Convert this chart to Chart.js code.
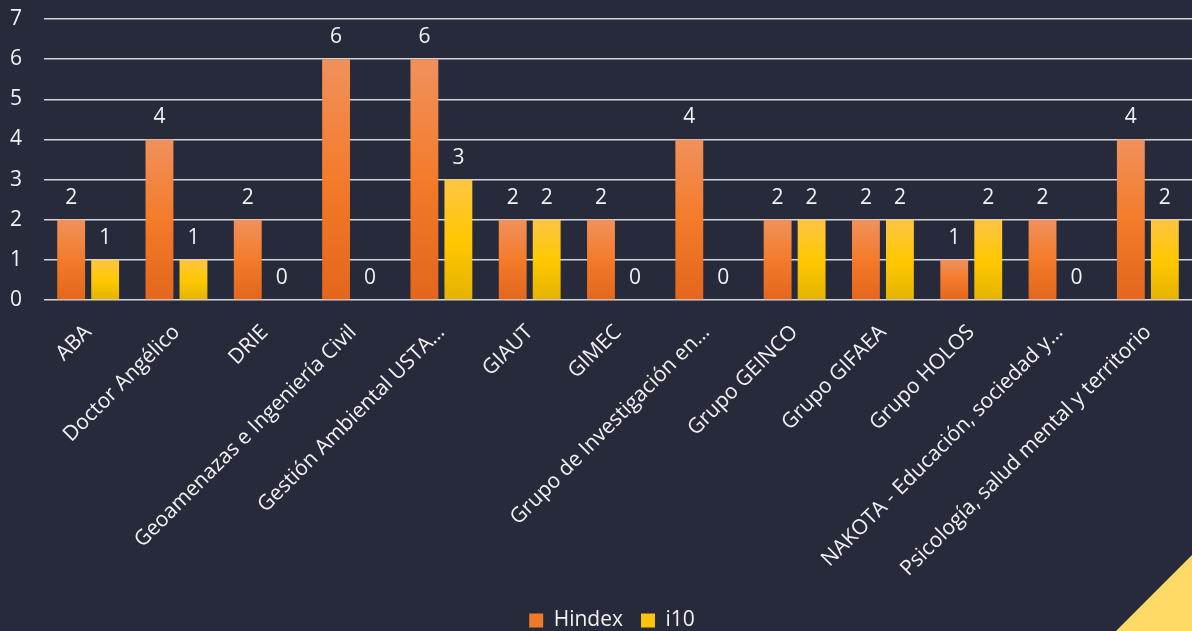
<!DOCTYPE html>
<html>
<head>
<meta charset="utf-8">
<script src="https://cdn.jsdelivr.net/npm/chart.js@4.4.1/dist/chart.umd.min.js"></script>
<style>
  html, body { margin: 0; padding: 0; background: #272a3a; }
  #wrap { position: relative; width: 1192px; height: 631px; }
  canvas { display: block; }
</style>
</head>
<body>
<div id="wrap"><canvas id="c" width="1192" height="631"></canvas></div>
<script>
const categories = [
  "ABA", "Doctor Angélico", "DRIE", "Geoamenazas e Ingeniería Civil",
  "Gestión Ambiental USTA…", "GIAUT", "GIMEC", "Grupo de Investigación en…",
  "Grupo GEINCO", "Grupo GIFAEA", "Grupo HOLOS", "NAKOTA - Educación, sociedad y…",
  "Psicología, salud mental y territorio"
];
const hindexValues = [2, 4, 2, 6, 6, 2, 2, 4, 2, 2, 1, 2, 4];
const i10Values    = [1, 1, 0, 0, 3, 2, 0, 0, 2, 2, 2, 0, 2];
const yTicks = [0, 1, 2, 3, 4, 5, 6, 7];

const FONT = "'Open Sans', 'Noto Sans', sans-serif";
const TXT = '#f2f2f2';

function gradFill(stops, fallback) {
  return function (ctx) {
    const chart = ctx.chart;
    const ys = chart.scales && chart.scales.y;
    if (!chart.chartArea || !ys || ctx.type !== 'data') return fallback;
    const v = ctx.raw;
    const top = ys.getPixelForValue(v);
    const bot = ys.getPixelForValue(0);
    if (!isFinite(top) || !isFinite(bot) || Math.abs(bot - top) < 1) return fallback;
    const g = chart.ctx.createLinearGradient(0, top, 0, bot);
    stops.forEach(s => g.addColorStop(s[0], s[1]));
    return g;
  };
}
const orangeStops = [[0, '#f0915c'], [0.5, '#f47b2a'], [1, '#e3661c']];
const yellowStops = [[0, '#ffc545'], [0.5, '#ffc800'], [1, '#e5b300']];

const valueLabels = {
  id: 'valueLabels',
  afterDatasetsDraw(chart) {
    const c = chart.ctx;
    c.save();
    c.font = "21px " + FONT;
    c.fillStyle = TXT;
    c.textAlign = 'center';
    c.textBaseline = 'alphabetic';
    chart.data.datasets.forEach((ds, di) => {
      const meta = chart.getDatasetMeta(di);
      meta.data.forEach((bar, i) => {
        c.fillText(String(ds.data[i]), bar.x, bar.y - 16);
      });
    });
    c.restore();
  }
};

const cornerTriangle = {
  id: 'cornerTriangle',
  beforeDraw(chart) {
    const c = chart.ctx, w = chart.width, h = chart.height;
    c.save();
    c.fillStyle = '#272a3a';
    c.fillRect(0, 0, w, h);
    c.beginPath();
    c.moveTo(w, h - 76);
    c.lineTo(w, h);
    c.lineTo(w - 76, h);
    c.closePath();
    c.fillStyle = '#ffd966';
    c.fill();
    c.restore();
  }
};

const legendShift = {
  id: 'legendShift',
  afterLayout(chart) {
    if (chart.legend) { chart.legend.left += 11; chart.legend.right += 11; }
  }
};

new Chart(document.getElementById('c'), {
  type: 'bar',
  data: {
    labels: categories,
    datasets: [
      { label: 'Hindex', data: hindexValues, backgroundColor: gradFill(orangeStops, '#f47b2a'),
        barPercentage: 0.82, categoryPercentage: 0.77, legendColor: '#f07a2c' },
      { label: 'i10', data: i10Values, backgroundColor: gradFill(yellowStops, '#ffc800'),
        barPercentage: 0.82, categoryPercentage: 0.77, legendColor: '#fcc30a' }
    ]
  },
  options: {
    responsive: false,
    animation: false,
    devicePixelRatio: 1,
    layout: { padding: { left: 10, right: 0, top: 19, bottom: -10 } },
    plugins: {
      legend: {
        position: 'bottom',
        labels: {
          color: TXT,
          font: { family: FONT, size: 21 },
          boxWidth: 14, boxHeight: 14, padding: 18,
          generateLabels(chart) {
            return chart.data.datasets.map((ds, i) => ({
              text: ds.label, fillStyle: ds.legendColor, strokeStyle: ds.legendColor,
              lineWidth: 0, fontColor: TXT, datasetIndex: i, hidden: false
            }));
          }
        }
      },
      tooltip: { enabled: false }
    },
    scales: {
      x: {
        afterFit(s) { s.height = 292; },
        grid: { display: false, drawTicks: false },
        border: { display: false },
        ticks: {
          color: TXT, font: { family: FONT, size: 21 },
          minRotation: 45, maxRotation: 45, autoSkip: false, padding: 20
        }
      },
      y: {
        min: 0, max: 7,
        afterFit(s) { s.width = 34; },
        afterBuildTicks(s) { s.ticks = yTicks.map(v => ({ value: v })); },
        grid: { color: '#d4d6dc', lineWidth: 1.5, drawTicks: false },
        border: { display: false },
        ticks: { color: TXT, font: { family: FONT, size: 21 }, crossAlign: 'far', padding: 0 }
      }
    }
  },
  plugins: [cornerTriangle, valueLabels, legendShift]
});
</script>
</body>
</html>
